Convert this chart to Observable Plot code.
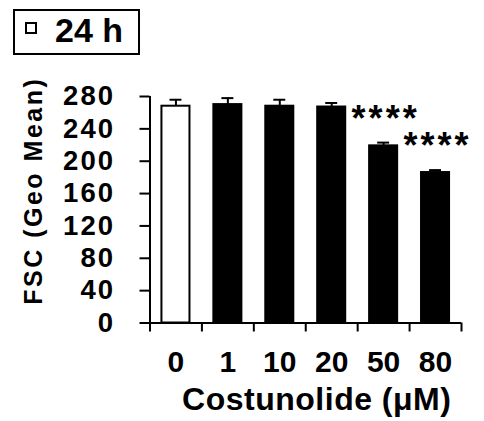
<!DOCTYPE html>
<html><head><meta charset="utf-8">
<script src="https://cdn.jsdelivr.net/npm/d3@7"></script>
<script src="https://cdn.jsdelivr.net/npm/@observablehq/plot@0.6"></script>
<style>
body{margin:0;background:#fff;}
#wrap{position:relative;width:484px;height:421px;}
svg{font-family:"Liberation Sans",Arial,sans-serif;}
g[aria-label="y-axis tick label"] text{letter-spacing:2px;}
#legend{position:absolute;left:13px;top:9px;width:127px;height:46px;box-sizing:border-box;border:2px solid #000;background:#fff;font-family:"Liberation Sans",Arial,sans-serif;}
#legend .sw{position:absolute;left:10px;top:11px;width:12px;height:12px;box-sizing:border-box;border:2px solid #000;background:#fff;}
#legend .lb{position:absolute;left:40px;top:2px;font-size:34px;line-height:34px;font-weight:bold;white-space:nowrap;}
</style>
</head><body>
<div id="wrap"><div id="chart"></div>
<div id="legend"><div class="sw"></div><span class="lb" id="lbtxt"></span></div></div>
<script>
const conc = ["0", "1", "10", "20", "50", "80"];
const meanFSC = [268, 270, 268, 267, 219, 186];
const sdFSC = [8, 8, 8, 5, 4, 3];
const sig = ["", "", "", "", "****", "****"];
const yTicks = [0, 40, 80, 120, 160, 200, 240, 280];
const xTitle = "Costunolide (μM)";
const yTitle = "FSC (Geo Mean)";
const legendLabel = "24 h";

document.getElementById("lbtxt").textContent = legendLabel;

const data = conc.map((c, i) => ({i, c, mean: meanFSC[i], sd: sdFSC[i], sig: sig[i]}));
const bounds = d3.range(conc.length + 1);
const centers = conc.map((c, i) => i + 0.5);
const yMax = yTicks[yTicks.length - 1];

const chart = Plot.plot({
  width: 484,
  height: 421,
  marginLeft: 149.5,
  marginRight: 23,
  marginTop: 96,
  marginBottom: 98.5,
  x: {domain: [0, conc.length]},
  y: {domain: [0, yMax]},
  marks: [
    Plot.rectY(data, {x1: d => d.i + 0.23, x2: d => d.i + 0.77, y: "mean",
      fill: d => d.i === 0 ? "white" : "black", stroke: "black", strokeWidth: 2}),
    Plot.ruleX(data, {x: d => d.i + 0.5, y1: "mean", y2: d => d.mean + d.sd, stroke: "black", strokeWidth: 2}),
    Plot.ruleY(data, {y: d => d.mean + d.sd, x1: d => d.i + 0.5 - 0.115, x2: d => d.i + 0.5 + 0.115, stroke: "black", strokeWidth: 2}),
    Plot.ruleX([0], {y1: 0, y2: yMax, stroke: "black", strokeWidth: 2}),
    Plot.ruleY([0], {x1: 0, x2: conc.length, stroke: "black", strokeWidth: 2}),
    Plot.axisY({ticks: yTicks, tickSize: 10, tickPadding: 25, fontSize: 27.5, fontWeight: "bold",
      strokeWidth: 2, label: null, color: "black"}),
    Plot.axisX({ticks: bounds, tickSize: 9, strokeWidth: 2, tickFormat: () => "", label: null}),
    Plot.axisX({ticks: centers, tickSize: 0, tickPadding: 27.5, fontSize: 30, fontWeight: "bold",
      tickFormat: d => conc[Math.floor(d)], label: null}),
    Plot.text(data.filter(d => d.sig), {x: d => d.i + 0.5, y: d => d.mean + d.sd, text: "sig",
      fontSize: 36, fontWeight: "bold", lineAnchor: "bottom", dx: 2, dy: -12}),
    Plot.text([yTitle], {text: d => d, frameAnchor: "left", textAnchor: "middle", rotate: -90, dx: -116, dy: -19,
      fontSize: 25, fontWeight: "bold", lineAnchor: "middle"}),
    Plot.text([xTitle], {text: d => d, frameAnchor: "bottom", textAnchor: "middle", dx: 11, dy: 76.5,
      fontSize: 32, fontWeight: "bold", lineAnchor: "middle"})
  ]
});
const spacing = new Map([["****", "3px"], [yTitle, "2.5px"], [xTitle, "0.5px"]]);
d3.select(chart).selectAll("text").each(function() {
  const s = spacing.get(this.textContent);
  if (s) this.setAttribute("letter-spacing", s);
});
document.getElementById("chart").appendChild(chart);
</script>
</body></html>
